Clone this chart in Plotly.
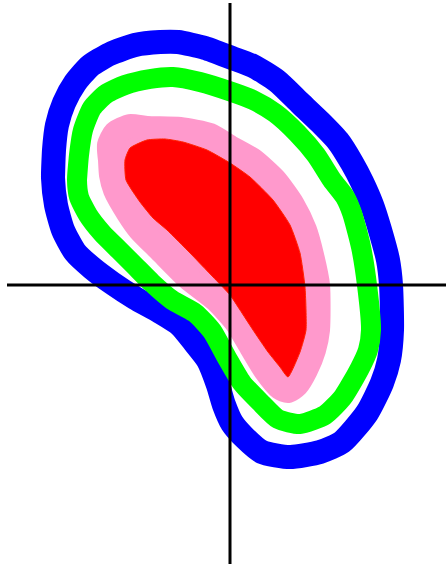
import plotly.graph_objects as go

# Contour levels of the distribution (outermost to innermost)
blue_x = [-1.77, -1.76, -1.73, -1.66, -1.55, -1.40, -1.20, -0.95, -0.70, -0.52, -0.25, 0.02, 0.23, 0.47,
          0.70, 0.90, 1.08, 1.22, 1.32, 1.42, 1.50, 1.58, 1.61, 1.62, 1.59, 1.52, 1.37, 1.12, 0.90, 0.60,
          0.32, 0.15, 0.02, -0.06, -0.12, -0.22, -0.35, -0.50, -0.70, -0.95, -1.18, -1.38, -1.55, -1.67, -1.74]
blue_y = [1.07, 1.35, 1.60, 1.82, 2.02, 2.19, 2.31, 2.40, 2.43, 2.43, 2.37, 2.27, 2.19, 2.04,
          1.82, 1.63, 1.44, 1.22, 1.03, 0.80, 0.55, 0.25, 0.00, -0.45, -0.75, -0.98, -1.28, -1.57, -1.67, -1.72,
          -1.67, -1.53, -1.38, -1.20, -1.00, -0.75, -0.58, -0.40, -0.27, -0.13, 0.02, 0.17, 0.33, 0.55, 0.80]

green_x = [-1.53, -1.51, -1.47, -1.38, -1.24, -1.05, -0.80, -0.57, -0.30, 0.02, 0.23, 0.45, 0.67, 0.86,
           1.02, 1.15, 1.22, 1.31, 1.37, 1.41, 1.38, 1.30, 1.13, 0.95, 0.70, 0.48, 0.30, 0.12, -0.03,
           -0.18, -0.35, -0.58, -0.78, -0.95, -1.11, -1.28, -1.42, -1.51]
green_y = [1.05, 1.30, 1.55, 1.77, 1.91, 2.00, 2.06, 2.08, 2.03, 1.93, 1.85, 1.72, 1.52, 1.30,
           1.05, 0.88, 0.72, 0.38, 0.00, -0.45, -0.65, -0.83, -1.12, -1.30, -1.39, -1.34, -1.17, -0.98, -0.73,
           -0.46, -0.28, -0.15, 0.02, 0.19, 0.35, 0.52, 0.70, 0.88]

pink_x = [-1.20, -1.21, -1.15, -1.00, -0.83, -0.50, -0.20, 0.00, 0.23, 0.45, 0.63, 0.75, 0.82, 0.88,
          0.88, 0.84, 0.76, 0.67, 0.58, 0.50, 0.35, 0.21, 0.06, -0.14, -0.42, -0.70, -0.90, -1.02, -1.15, -1.19]
pink_y = [1.25, 1.40, 1.52, 1.59, 1.57, 1.56, 1.50, 1.38, 1.25, 1.05, 0.80, 0.55, 0.30, 0.00,
          -0.45, -0.65, -0.85, -1.00, -1.06, -1.03, -0.85, -0.62, -0.37, -0.15, 0.07, 0.35, 0.55, 0.72, 0.95, 1.10]

red_x = [-1.05, -1.00, -0.83, -0.65, -0.47, -0.23, 0.00, 0.20, 0.43, 0.60, 0.70, 0.75, 0.76, 0.70,
         0.58, 0.50, 0.38, 0.23, 0.10, 0.00, -0.17, -0.40, -0.63, -0.77, -0.90, -1.04]
red_y = [1.25, 1.37, 1.45, 1.46, 1.43, 1.35, 1.22, 1.08, 0.85, 0.60, 0.32, -0.02, -0.45, -0.67,
         -0.92, -0.82, -0.67, -0.45, -0.25, -0.10, 0.08, 0.32, 0.55, 0.67, 0.83, 1.05]


def closed(xs, ys):
    # repeat the first two vertices so the thick stroke joins cleanly
    return xs + xs[:2], ys + ys[:2]


fig = go.Figure()

bx, by = closed(blue_x, blue_y)
fig.add_trace(go.Scatter(x=bx, y=by, mode="lines",
                         line=dict(color="#0000ff", width=24, shape="spline", smoothing=0.6),
                         hoverinfo="skip"))

gx, gy = closed(green_x, green_y)
fig.add_trace(go.Scatter(x=gx, y=gy, mode="lines",
                         line=dict(color="#00ff00", width=20, shape="spline", smoothing=0.6),
                         hoverinfo="skip"))

px_, py_ = closed(pink_x, pink_y)
fig.add_trace(go.Scatter(x=px_, y=py_, mode="lines", fill="toself", fillcolor="#ff99cc",
                         line=dict(color="#ff99cc", width=24, shape="spline", smoothing=0.6),
                         hoverinfo="skip"))

fig.add_trace(go.Scatter(x=red_x + red_x[:1], y=red_y + red_y[:1], mode="lines",
                         fill="toself", fillcolor="#ff0000",
                         line=dict(color="#ff2200", width=1, shape="spline", smoothing=0.5),
                         hoverinfo="skip"))

# crosshair axes through the origin
fig.add_shape(type="line", xref="x", yref="paper", x0=0, x1=0, y0=0, y1=1,
              line=dict(color="black", width=3), layer="above")
fig.add_shape(type="line", xref="paper", yref="y", x0=0, x1=1, y0=0, y1=0,
              line=dict(color="black", width=3), layer="above")

fig.update_xaxes(range=[-2.23, 2.16], visible=False, showgrid=False, zeroline=False)
fig.update_yaxes(range=[-2.79, 2.82], visible=False, showgrid=False, zeroline=False)
fig.update_layout(width=446, height=567, margin=dict(l=7, r=0, t=3, b=3),
                  paper_bgcolor="white", plot_bgcolor="white", showlegend=False)

fig.write_html("out.html")
